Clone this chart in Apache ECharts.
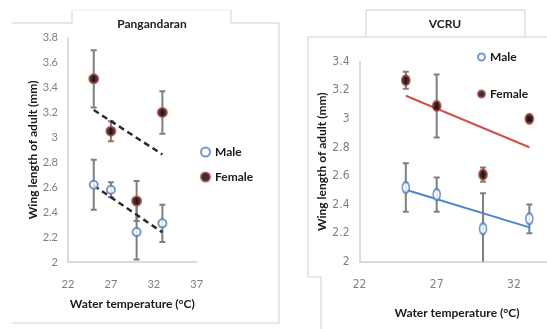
<!DOCTYPE html>
<html>
<head>
<meta charset="utf-8">
<script src="https://cdn.jsdelivr.net/npm/echarts@6/dist/echarts.min.js"></script>
<style>
html,body{margin:0;padding:0;background:#fff;}
#chart{width:547px;height:329px;}
</style>
</head>
<body>
<div id="chart"></div>
<script>
// ---- data ----
const temps = [25, 27, 30, 33];
const xTicks = [22, 27, 32, 37];
const pgMale = [2.62, 2.58, 2.24, 2.31];
const pgMaleErr = [0.20, 0.06, 0.22, 0.15];
const pgFemale = [3.47, 3.05, 2.49, 3.20];
const pgFemaleErr = [0.23, 0.08, 0.16, 0.17];
const vcMale = [2.52, 2.47, 2.23, 2.30];
const vcMaleErr = [0.17, 0.12, 0.25, 0.10];
const vcFemale = [3.27, 3.09, 2.61, 3.00];
const vcFemaleErr = [0.06, 0.22, 0.05, 0.01];

function pts(xs, ys) { return xs.map((x, i) => [x, ys[i]]); }
function errs(xs, ys, es) { return xs.map((x, i) => [x, ys[i], es[i]]); }
function trend(xs, ys) {
  const n = xs.length;
  const mx = xs.reduce((a, b) => a + b, 0) / n;
  const my = ys.reduce((a, b) => a + b, 0) / n;
  let sxy = 0, sxx = 0;
  for (let i = 0; i < n; i++) { sxy += (xs[i] - mx) * (ys[i] - my); sxx += (xs[i] - mx) ** 2; }
  const b = sxy / sxx, a = my - b * mx;
  const x0 = Math.min(...xs), x1 = Math.max(...xs);
  return [[x0, a + b * x0], [x1, a + b * x1]];
}

const FONT = 'Lato, "Open Sans", sans-serif';
const NARROW = '"DejaVu Sans Condensed", "Liberation Sans Narrow", ' + FONT;
const BLUE = '#4f81bd';
const RED = '#b8403d';
const ERR = '#7f7f7f';

function errSeries(name, data, gi, cap) {
  return {
    type: 'custom', name: name + ' err', xAxisIndex: gi, yAxisIndex: gi, clip: true, z: 2,
    data: data, silent: true,
    renderItem: function (params, api) {
      const x = api.value(0), y = api.value(1), e = api.value(2);
      const t = api.coord([x, y + e]), b = api.coord([x, y - e]);
      const st = { stroke: ERR, lineWidth: 2 };
      return { type: 'group', children: [
        { type: 'line', shape: { x1: t[0], y1: t[1], x2: b[0], y2: b[1] }, style: st },
        { type: 'line', shape: { x1: t[0] - cap, y1: t[1], x2: t[0] + cap, y2: t[1] }, style: st },
        { type: 'line', shape: { x1: b[0] - cap, y1: b[1], x2: b[0] + cap, y2: b[1] }, style: st }
      ]};
    }
  };
}

function xAxis(gi, labelFont, labelSize, nameGap, withName) {
  return {
    gridIndex: gi, type: 'value', min: xTicks[0], max: xTicks[xTicks.length - 1], interval: xTicks[1] - xTicks[0],
    axisLine: { show: true, lineStyle: { color: '#d0d0d0', width: 1.5 } },
    axisTick: { show: false }, splitLine: { show: false },
    axisLabel: { color: '#7f7f7f', fontSize: labelSize, fontFamily: labelFont, margin: 17 },
    name: withName ? 'Water temperature (°C)' : '', nameLocation: 'middle', nameGap: nameGap,
    nameTextStyle: { color: '#1a1a1a', fontSize: 12, fontWeight: 'bold', fontFamily: FONT }
  };
}
function yAxis(gi, max, labelFont, labelSize, nameGap) {
  return {
    gridIndex: gi, type: 'value', min: 2, max: max, interval: 0.2,
    axisLine: { show: true, lineStyle: { color: '#d0d0d0', width: 1.5 } },
    axisTick: { show: false }, splitLine: { show: false },
    axisLabel: { color: '#7f7f7f', fontSize: labelSize, fontFamily: labelFont, margin: 10 },
    name: 'Wing length of adult (mm)', nameLocation: 'middle', nameGap: nameGap,
    nameTextStyle: { color: '#1a1a1a', fontSize: 12, fontWeight: 'bold', fontFamily: FONT }
  };
}

const frame = { stroke: '#cfcfcf', lineWidth: 1, fill: null };
const option = {
  backgroundColor: '#fff',
  animation: false,
  grid: [
    { left: 68, top: 37.7, width: 128.7, height: 224.3, outerBoundsMode: 'none', containLabel: false },
    { left: 359.5, top: 61.7, width: 231.6, height: 200, outerBoundsMode: 'none', containLabel: false }
  ],
  xAxis: [xAxis(0, FONT, 11, 36, true), xAxis(1, NARROW, 12, 45, false)],
  yAxis: [yAxis(0, 3.8, FONT, 11, 29), yAxis(1, 3.4, NARROW, 12, 31)],
  legend: [
    { orient: 'vertical', left: 195, top: 141, itemGap: 13, itemWidth: 9, itemHeight: 9,
      data: ['Male', 'Female'], selectedMode: false,
      textStyle: { color: '#1a1a1a', fontSize: 12, fontWeight: 'bold', fontFamily: FONT } },
    { orient: 'vertical', left: 472, top: 46, itemGap: 25, itemWidth: 7, itemHeight: 11,
      data: ['Male', 'Female'], selectedMode: false,
      textStyle: { color: '#1a1a1a', fontSize: 12, fontWeight: 'bold', fontFamily: FONT } }
  ],
  graphic: [
    { type: 'polyline', silent: true, shape: { points: [[12, 23], [72, 23], [72, 10]] }, style: frame },
    { type: 'line', silent: true, shape: { x1: 72, y1: 10, x2: 231, y2: 10 }, style: { stroke: '#ececec', lineWidth: 1 } },
    { type: 'polyline', silent: true, shape: { points: [[231, 10], [231, 23], [279, 23], [279, 323], [12, 323]] }, style: frame },
    { type: 'polyline', silent: true, shape: { points: [[321, 329], [321, 277], [308, 277], [308, 37], [366, 37], [366, 10], [525, 10], [525, 37], [547, 37]] }, style: frame },
    { type: 'line', silent: true, shape: { x1: 366, y1: 37, x2: 525, y2: 37 }, style: { stroke: '#cfcfcf', lineWidth: 1 } },
    { type: 'text', silent: true, x: 152, y: 24, style: { text: 'Pangandaran', fill: '#222', font: 'bold 12px ' + FONT, align: 'center', verticalAlign: 'middle' } },
    { type: 'text', silent: true, x: 445, y: 24, style: { text: 'VCRU', fill: '#222', font: 'bold 12px ' + FONT, align: 'center', verticalAlign: 'middle' } },
    { type: 'text', silent: true, x: 457, y: 313, style: { text: 'Water temperature (°C)', fill: '#1a1a1a', font: 'bold 12px ' + FONT, align: 'center', verticalAlign: 'middle' } }
  ],
  series: [
    errSeries('pg male', errs(temps, pgMale, pgMaleErr), 0, 3),
    errSeries('pg female', errs(temps, pgFemale, pgFemaleErr), 0, 3),
    errSeries('vc male', errs(temps, vcMale, vcMaleErr), 1, 3),
    errSeries('vc female', errs(temps, vcFemale, vcFemaleErr), 1, 3),
    { type: 'line', xAxisIndex: 0, yAxisIndex: 0, data: trend(temps, pgFemale), showSymbol: false, symbol: 'none', silent: true, z: 3,
      lineStyle: { color: '#2b2b2b', width: 2.5, type: [6, 4] } },
    { type: 'line', xAxisIndex: 0, yAxisIndex: 0, data: trend(temps, pgMale), showSymbol: false, symbol: 'none', silent: true, z: 3,
      lineStyle: { color: '#2b2b2b', width: 2.5, type: [6, 4] } },
    { type: 'line', xAxisIndex: 1, yAxisIndex: 1, data: trend(temps, vcFemale), showSymbol: false, symbol: 'none', silent: true, z: 3,
      lineStyle: { color: '#d0504c', width: 2 } },
    { type: 'line', xAxisIndex: 1, yAxisIndex: 1, data: trend(temps, vcMale), showSymbol: false, symbol: 'none', silent: true, z: 3,
      lineStyle: { color: '#4a86c8', width: 2 } },
    { type: 'scatter', name: 'Male', xAxisIndex: 0, yAxisIndex: 0, data: pts(temps, pgMale), symbol: 'circle', symbolSize: 8, z: 4,
      itemStyle: { color: '#fff', borderColor: BLUE, borderWidth: 2 } },
    { type: 'scatter', name: 'Female', xAxisIndex: 0, yAxisIndex: 0, data: pts(temps, pgFemale), symbol: 'circle', symbolSize: 9, z: 4,
      itemStyle: { color: '#000', borderColor: RED, borderWidth: 2 } },
    { type: 'scatter', name: 'Male', xAxisIndex: 1, yAxisIndex: 1, data: pts(temps, vcMale), symbol: 'circle', symbolSize: [7, 11], z: 4,
      itemStyle: { color: '#fff', borderColor: BLUE, borderWidth: 2 } },
    { type: 'scatter', name: 'Female', xAxisIndex: 1, yAxisIndex: 1, data: pts(temps, vcFemale), symbol: 'circle', symbolSize: [8, 10], z: 4,
      itemStyle: { color: '#000', borderColor: RED, borderWidth: 2 } }
  ]
};
const chart = echarts.init(document.getElementById('chart'), null, { renderer: 'canvas' });
chart.setOption(option);
</script>
</body>
</html>
